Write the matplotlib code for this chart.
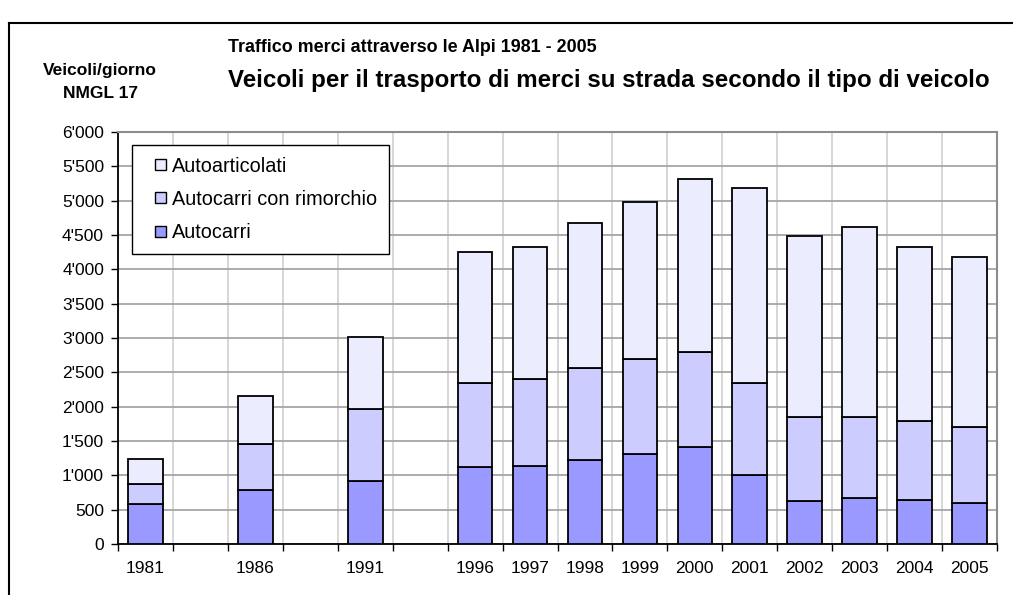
import matplotlib.pyplot as plt
import numpy as np
from matplotlib.lines import Line2D
from matplotlib.patches import Patch, Rectangle
from matplotlib.legend_handler import HandlerPatch
from matplotlib.ticker import FuncFormatter, MultipleLocator

plt.rcParams['font.family'] = ['Liberation Sans', 'DejaVu Sans']

# slots on the x axis (empty strings are the gaps between the early years)
slots = ['1981', '', '1986', '', '1991', '', '1996', '1997', '1998', '1999',
         '2000', '2001', '2002', '2003', '2004', '2005']

# values (None = empty slot)
autocarri = [585, None, 780, None, 915, None, 1120, 1135, 1230, 1310,
             1410, 1000, 625, 670, 645, 600]
rimorchio_top = [870, None, 1455, None, 1970, None, 2345, 2405, 2565, 2700,
                 2790, 2345, 1850, 1850, 1785, 1700]
totale = [1235, None, 2150, None, 3020, None, 4250, 4330, 4670, 4980,
          5310, 5185, 4490, 4620, 4330, 4175]

series_names = ['Autoarticolati', 'Autocarri con rimorchio', 'Autocarri']
colors = {'Autocarri': '#9999ff', 'Autocarri con rimorchio': '#ccccff',
          'Autoarticolati': '#ececff'}

#####################################################################################

def to_arr(v):
  return np.array([np.nan if a is None else a for a in v], dtype=float)

def square_handle(legend, orig_handle, xdescent, ydescent, width, height, fontsize):
  # small square pushed to the right end of the handle box
  s = 11 * 72 / 100
  return Rectangle((width - s - xdescent, height / 2 - s / 2 - ydescent), s, s)

a1 = to_arr(autocarri)
a2 = to_arr(rimorchio_top) - a1
a3 = to_arr(totale) - to_arr(rimorchio_top)

x = np.arange(len(slots))
ok = ~np.isnan(a1)

fig = plt.figure(figsize=(10.13, 5.95), dpi=100)
ax = fig.add_axes([118/1013, 1 - 544/595, (997-118)/1013, (544-132)/595])

w = 0.63
kw = dict(width=w, edgecolor='black', linewidth=1.3, zorder=3)
ax.bar(x[ok], a1[ok], color=colors['Autocarri'], **kw)
ax.bar(x[ok], a2[ok], bottom=a1[ok], color=colors['Autocarri con rimorchio'], **kw)
ax.bar(x[ok], a3[ok], bottom=(a1 + a2)[ok], color=colors['Autoarticolati'], **kw)

ax.set_xlim(-0.5, len(slots) - 0.5)
ax.set_ylim(0, 6000)

# grid
ax.yaxis.set_major_locator(MultipleLocator(500))
ax.yaxis.set_major_formatter(FuncFormatter(lambda v, p: f"{int(v):,}".replace(',', "'")))
ax.grid(axis='y', color='#a6a6a6', linewidth=1.3, zorder=0)
for b in np.arange(-0.5, len(slots), 1.0):
  ax.axvline(b, color='#cccccc', linewidth=1.1, zorder=0)

# x ticks: marks on slot borders, labels in slot centers
ax.set_xticks(np.arange(-0.5, len(slots), 1.0))
ax.set_xticklabels([])
ax.set_xticks(x, minor=True)
ax.set_xticklabels(slots, minor=True)
ax.tick_params(axis='x', which='major', length=5, width=1, direction='out')
ax.tick_params(axis='x', which='minor', length=0, pad=12, labelsize=12.5)
ax.tick_params(axis='y', length=5, width=1, direction='out', pad=5, labelsize=12.5)

for s in ['left', 'bottom']:
  ax.spines[s].set_color('black')
  ax.spines[s].set_linewidth(1.3)
for s in ['top', 'right']:
  ax.spines[s].set_color('#8c8c8c')
  ax.spines[s].set_linewidth(1.5)

handles = [Patch(facecolor=colors[n], edgecolor='black', linewidth=1) for n in series_names]
leg = ax.legend(handles, series_names, loc='upper left', bbox_to_anchor=(14/879, 1 - 13/412),
                fontsize=14.3, frameon=True, fancybox=False, framealpha=1,
                edgecolor='black', handlelength=1.15, handleheight=0.7,
                handletextpad=0.3, labelspacing=0.72, borderpad=0.58,
                borderaxespad=0,
                handler_map={Patch: HandlerPatch(patch_func=square_handle)})
leg.get_frame().set_linewidth(1)
leg.set_zorder(5)

# titles
fig.text(228/1013, 1 - 48/595, 'Traffico merci attraverso le Alpi 1981 - 2005',
         fontsize=12.9, fontweight='bold', va='center', ha='left')
fig.text(228/1013, 1 - 80/595, 'Veicoli per il trasporto di merci su strada secondo il tipo di veicolo',
         fontsize=17.4, fontweight='bold', va='center', ha='left')
fig.text(100/1013, 1 - 70/595, 'Veicoli/giorno', fontsize=12.5, fontweight='bold', va='center', ha='center')
fig.text(100/1013, 1 - 94/595, 'NMGL 17', fontsize=12.5, fontweight='bold', va='center', ha='center')

# outer frame (cut off on the right and bottom)
fig.add_artist(Line2D([9/1013, 9/1013], [0, 1 - 23/595], color='black', linewidth=1.5))
fig.add_artist(Line2D([9/1013, 1], [1 - 23/595, 1 - 23/595], color='black', linewidth=1.5))

fig.savefig('out.png', dpi=100)
